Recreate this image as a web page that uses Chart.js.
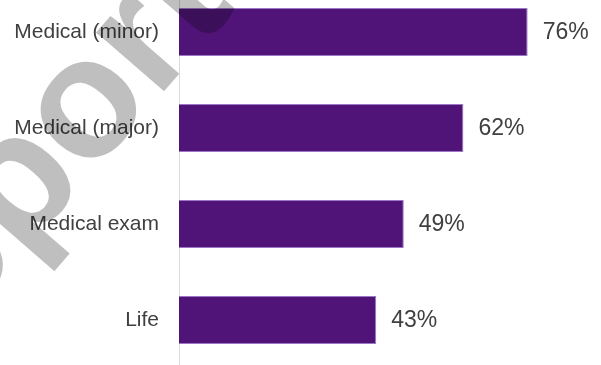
<!DOCTYPE html>
<html>
<head>
<meta charset="utf-8">
<script src="https://cdn.jsdelivr.net/npm/chart.js@4/dist/chart.umd.min.js"></script>
<style>
  html, body { margin: 0; padding: 0; background: #ffffff; overflow: hidden; }
  body { width: 601px; height: 365px; position: relative; }
  #wrap { position: absolute; left: 0; top: -16px; width: 601px; height: 400px; }
</style>
</head>
<body>
<div id="wrap"><canvas id="chart"></canvas></div>
<script>
// Share of respondents by cover type
const categories = ['Medical (minor)', 'Medical (major)', 'Medical exam', 'Life'];
const shares = [76, 62, 49, 43];
const axisMax = 80;

const BAR_COLOR = '#501478';
const BAR_EDGE = '#9c78c4';
const TEXT_COLOR = '#404040';
const FONT = "'Liberation Sans', Arial, sans-serif";

// Large faint "Report" stamp across the upper left
const stampPlugin = {
  id: 'stamp',
  afterDatasetsDraw(chart) {
    const ctx = chart.ctx;
    ctx.save();
    ctx.translate(-122.5, 437);
    ctx.rotate(-49 * Math.PI / 180);
    ctx.font = "bold 170px " + FONT;
    ctx.fillStyle = 'rgba(0,0,0,0.25)';
    ctx.textBaseline = 'alphabetic';
    ctx.textAlign = 'left';
    ctx.fillText('Report', 0, 0);
    ctx.restore();
  }
};

// Percentage printed just past the end of each bar
const valueLabels = {
  id: 'valueLabels',
  afterDatasetsDraw(chart) {
    const ctx = chart.ctx;
    const meta = chart.getDatasetMeta(0);
    ctx.save();
    ctx.font = "23px " + FONT;
    ctx.fillStyle = TEXT_COLOR;
    ctx.textAlign = 'left';
    ctx.textBaseline = 'middle';
    meta.data.forEach((bar, i) => {
      ctx.fillText(shares[i] + '%', bar.x + 15, bar.y + 1);
    });
    ctx.restore();
  }
};

new Chart(document.getElementById('chart'), {
  type: 'bar',
  data: {
    labels: categories,
    datasets: [{
      data: shares,
      backgroundColor: BAR_COLOR,
      borderColor: BAR_EDGE,
      borderWidth: { top: 1, right: 1, bottom: 1, left: 0 },
      borderSkipped: 'left',
      barPercentage: 0.5,
      categoryPercentage: 1.0
    }]
  },
  options: {
    indexAxis: 'y',
    responsive: true,
    maintainAspectRatio: false,
    animation: false,
    events: [],
    layout: { padding: { left: 0, right: 55, top: 0, bottom: 16 } },
    plugins: {
      legend: { display: false },
      tooltip: { enabled: false },
      title: { display: false }
    },
    scales: {
      x: {
        display: false,
        min: 0,
        max: axisMax,
        grid: { display: false }
      },
      y: {
        afterFit(scale) {
          // fixed label gutter, no extra space above/below the bands
          scale.width = 179;
          scale.paddingTop = 0;
          scale.paddingBottom = 0;
        },
        grid: { display: false, drawTicks: false },
        border: { display: true, color: '#d9d9d9', width: 1 },
        ticks: {
          color: TEXT_COLOR,
          padding: 20,
          font: { family: FONT, size: 21 }
        }
      }
    }
  },
  plugins: [stampPlugin, valueLabels]
});
</script>
</body>
</html>
